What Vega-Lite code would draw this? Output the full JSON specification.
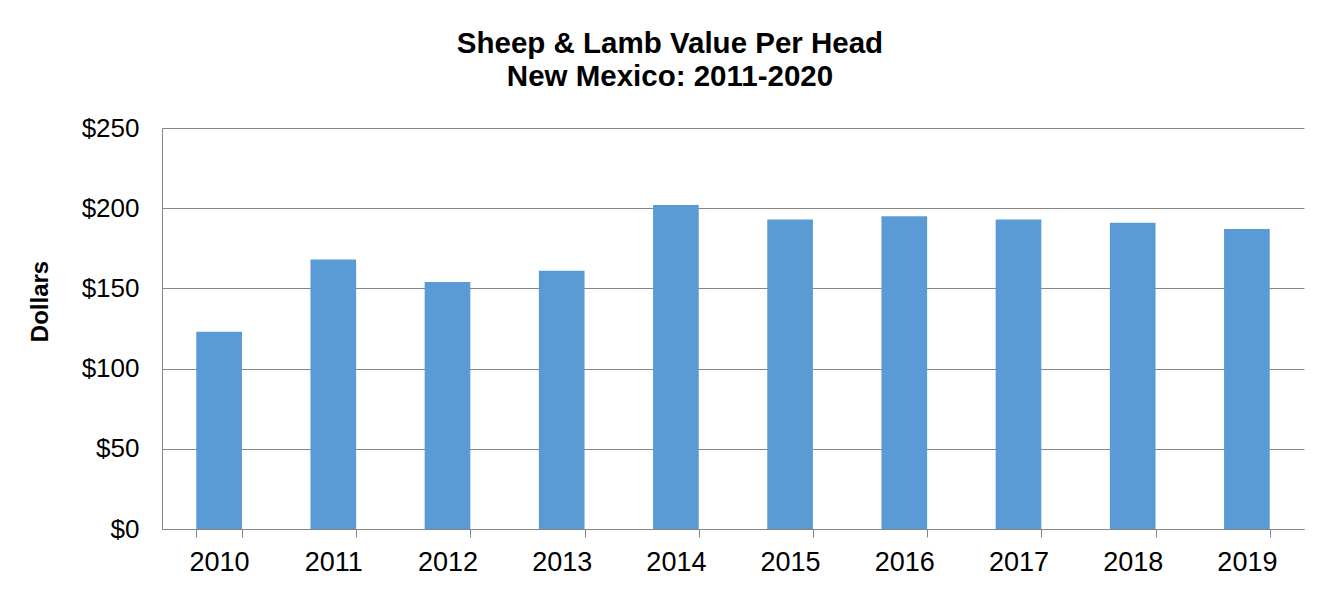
{
  "$schema": "https://vega.github.io/schema/vega-lite/v6.json",
  "autosize": "none",
  "width": 1142,
  "height": 401,
  "padding": {"left": 162, "top": 128, "right": 29, "bottom": 63},
  "background": "white",
  "title": {
    "text": ["Sheep & Lamb Value Per Head", "New Mexico: 2011-2020"],
    "font": "Liberation Sans",
    "fontSize": 29.5,
    "fontWeight": "bold",
    "color": "black",
    "lineHeight": 33,
    "anchor": "middle",
    "frame": "group",
    "dx": -63,
    "offset": 23
  },
  "data": {
    "values": [
      {"year": "2010", "value": 123},
      {"year": "2011", "value": 168},
      {"year": "2012", "value": 154},
      {"year": "2013", "value": 161},
      {"year": "2014", "value": 202},
      {"year": "2015", "value": 193},
      {"year": "2016", "value": 195},
      {"year": "2017", "value": 193},
      {"year": "2018", "value": 191},
      {"year": "2019", "value": 187}
    ]
  },
  "mark": {"type": "bar", "color": "#5B9BD5"},
  "encoding": {
    "x": {
      "field": "year",
      "type": "ordinal",
      "scale": {"paddingInner": 0.6, "paddingOuter": 0.3},
      "axis": {
        "title": null,
        "labelAngle": 0,
        "labelFont": "Liberation Sans",
        "labelFontSize": 27,
        "labelColor": "black",
        "labelPadding": 12,
        "tickBand": "extent",
        "tickSize": 8,
        "tickColor": "#868686",
        "domainColor": "#868686",
        "grid": false
      }
    },
    "y": {
      "field": "value",
      "type": "quantitative",
      "scale": {"domain": [0, 250], "nice": false},
      "axis": {
        "title": "Dollars",
        "titleFont": "Liberation Sans",
        "titleFontSize": 24,
        "titleFontWeight": "bold",
        "titleColor": "black",
        "titleAngle": -90,
        "titleX": -122,
        "titleY": 173,
        "titleAlign": "center",
        "titleBaseline": "middle",
        "values": [0, 50, 100, 150, 200, 250],
        "format": "$,.0f",
        "labelFont": "Liberation Sans",
        "labelFontSize": 26,
        "labelColor": "black",
        "labelPadding": 23,
        "ticks": false,
        "domainColor": "#868686",
        "grid": true,
        "gridColor": "#868686",
        "gridWidth": 1
      }
    }
  },
  "config": {
    "view": {"stroke": null}
  }
}
